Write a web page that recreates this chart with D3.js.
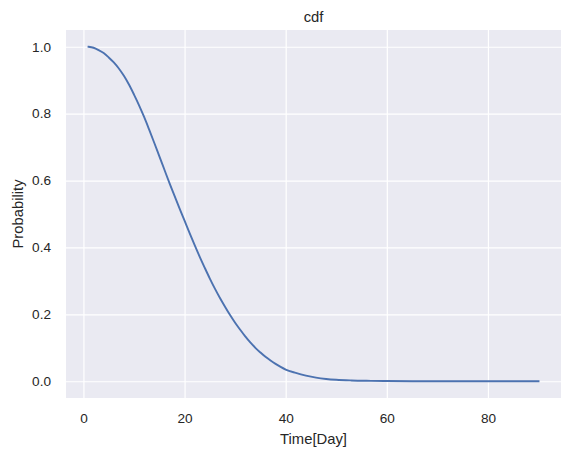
<!DOCTYPE html>
<html>
<head>
<meta charset="utf-8">
<script src="https://cdn.jsdelivr.net/npm/d3@7"></script>
<style>
  html, body { margin: 0; padding: 0; background: #fff; }
  svg { display: block; font-family: "Liberation Sans", Arial, sans-serif; }
</style>
</head>
<body>
<svg id="chart" width="571" height="457"></svg>
<script>
// values
const days = [1, 2, 3, 4, 5, 6, 7, 8, 9, 10, 11, 12, 13, 14, 15, 16, 17, 18, 19, 20,
  21, 22, 23, 24, 25, 26, 27, 28, 29, 30, 31, 32, 33, 34, 35, 36, 37, 38, 39, 40,
  42, 44, 46, 48, 50, 53, 56, 60, 65, 70, 80, 90];
const probability = [1.0, 0.997, 0.99, 0.981, 0.968, 0.953, 0.935, 0.913, 0.887, 0.857,
  0.825, 0.79, 0.752, 0.713, 0.673, 0.633, 0.593, 0.555, 0.517, 0.48,
  0.443, 0.407, 0.372, 0.339, 0.307, 0.277, 0.249, 0.223, 0.198, 0.175,
  0.154, 0.134, 0.116, 0.1, 0.086, 0.073, 0.062, 0.052, 0.043, 0.035,
  0.025, 0.017, 0.011, 0.007, 0.0045, 0.0025, 0.0014, 0.0006, 0.0002, 0.0001, 0, 0];
const xTicks = [0, 20, 40, 60, 80];
const yTicks = [0.0, 0.2, 0.4, 0.6, 0.8, 1.0];

const svg = d3.select('#chart');
const margin = {top: 30, right: 10, bottom: 59, left: 66};
const width = 571 - margin.left - margin.right;
const height = 457 - margin.top - margin.bottom;

const g = svg.append('g').attr('transform', `translate(${margin.left},${margin.top})`);

// matplotlib style 5% padding around the data
const xPad = (d3.max(days) - d3.min(days)) * 0.05;
const x = d3.scaleLinear()
  .domain([d3.min(days) - xPad, d3.max(days) + xPad])
  .range([0, width]);
const y = d3.scaleLinear()
  .domain([-0.05, 1.05])
  .range([height, 0]);

g.append('rect')
  .attr('width', width)
  .attr('height', height)
  .attr('fill', '#eaeaf2');

// grid
g.append('g')
  .attr('transform', `translate(0,${height})`)
  .call(d3.axisBottom(x).tickValues(xTicks).tickSize(-height).tickFormat(d => d).tickPadding(15))
  .call(ax => ax.select('.domain').remove())
  .call(ax => ax.selectAll('line').attr('stroke', '#fff').attr('stroke-width', 1.2))
  .call(ax => ax.selectAll('text').attr('fill', '#262626').style('font-size', '13.6px'));

g.append('g')
  .call(d3.axisLeft(y).tickValues(yTicks).tickSize(-width).tickFormat(d3.format('.1f')).tickPadding(15))
  .call(ax => ax.select('.domain').remove())
  .call(ax => ax.selectAll('line').attr('stroke', '#fff').attr('stroke-width', 1.2))
  .call(ax => ax.selectAll('text').attr('fill', '#262626').style('font-size', '13.6px'));

const line = d3.line()
  .x((d, i) => x(days[i]))
  .y(d => y(d))
  .curve(d3.curveMonotoneX);

g.append('path')
  .datum(probability)
  .attr('d', line)
  .attr('fill', 'none')
  .attr('stroke', '#4c72b0')
  .attr('stroke-width', 1.9)
  .attr('stroke-linecap', 'square');

// title and axis labels
g.append('text')
  .attr('x', width / 2)
  .attr('y', -8.5)
  .attr('text-anchor', 'middle')
  .attr('fill', '#262626')
  .style('font-size', '14.8px')
  .text('cdf');

g.append('text')
  .attr('x', width / 2)
  .attr('y', height + 46)
  .attr('text-anchor', 'middle')
  .attr('fill', '#262626')
  .style('font-size', '14.8px')
  .text('Time[Day]');

g.append('text')
  .attr('transform', `translate(${-43},${height / 2}) rotate(-90)`)
  .attr('text-anchor', 'middle')
  .attr('fill', '#262626')
  .style('font-size', '14.8px')
  .text('Probability');
</script>
</body>
</html>
